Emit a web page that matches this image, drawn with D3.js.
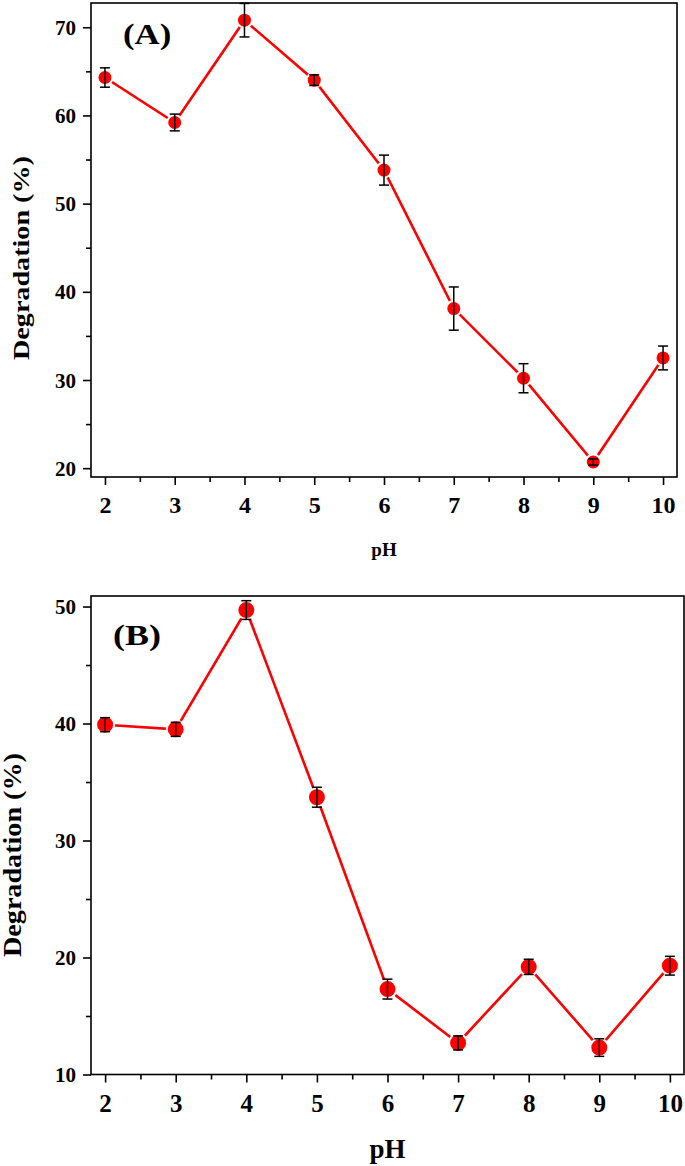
<!DOCTYPE html>
<html>
<head>
<meta charset="utf-8">
<script src="https://cdn.jsdelivr.net/npm/d3@7"></script>
<style>
  html, body { margin: 0; padding: 0; background: #fff; }
  svg { display: block; }
  svg text { font-family: "Times New Roman", "Liberation Serif", Tinos, serif !important; font-weight: bold; fill: #000; }
</style>
</head>
<body>
<svg id="chart" width="685" height="1166"></svg>
<script>
// ---- data ----
const pH = [2, 3, 4, 5, 6, 7, 8, 9, 10];
const degradationA = [64.3, 59.2, 70.8, 64.0, 53.8, 38.1, 30.2, 20.7, 32.5];
const errorA = [1.1, 0.95, 1.9, 0.6, 1.7, 2.45, 1.65, 0.35, 1.35];
const degradationB = [39.9, 39.5, 49.7, 33.7, 17.3, 12.7, 19.2, 12.3, 19.3];
const errorB = [0.6, 0.6, 0.8, 0.85, 0.85, 0.6, 0.65, 0.75, 0.8];
const xTicks = [2, 3, 4, 5, 6, 7, 8, 9, 10];
const yTicksA = [20, 30, 40, 50, 60, 70];
const yTicksB = [10, 20, 30, 40, 50];
const xLabel = "pH";
const yLabel = "Degradation (%)";

const svg = d3.select("#chart");
const FONT = '"Times New Roman", "Liberation Serif", Tinos, serif';

function panel(opt) {
  const g = svg.append("g");
  const x = d3.scaleLinear().domain([1.8, 10.2]).range([opt.left, opt.right]);
  const y = d3.scaleLinear().domain(opt.yDomain).range([opt.bottom, opt.top]);

  // frame
  g.append("rect")
    .attr("x", opt.left).attr("y", opt.top)
    .attr("width", opt.right - opt.left).attr("height", opt.bottom - opt.top)
    .attr("fill", "none").attr("stroke", "#000").attr("stroke-width", 1.6);

  const xMinor = d3.range(2.5, 10, 1);
  const yMinorAll = d3.range(5, 80, 10).filter(v => v > opt.yDomain[0] && v < opt.yDomain[1]);

  // x axis
  const xa = g.append("g").attr("transform", `translate(0,${opt.bottom})`)
    .call(d3.axisBottom(x).tickValues(xTicks).tickSize(8).tickPadding(4).tickFormat(d3.format("d")));
  xa.attr("font-family", FONT);
  xa.select(".domain").remove();
  xa.selectAll("line").attr("stroke", "#000").attr("stroke-width", 1.6);
  xa.selectAll("text").style("font-size", opt.xTickFont + "px").attr("y", opt.xTickY).attr("dy", null);
  const xm = g.append("g").attr("transform", `translate(0,${opt.bottom})`)
    .call(d3.axisBottom(x).tickValues(xMinor).tickSize(5).tickFormat(""));
  xm.select(".domain").remove();
  xm.selectAll("line").attr("stroke", "#000").attr("stroke-width", 1.6);

  // y axis
  const ya = g.append("g").attr("transform", `translate(${opt.left},0)`)
    .call(d3.axisLeft(y).tickValues(opt.yTicks).tickSize(8).tickPadding(7).tickFormat(d3.format("d")));
  ya.attr("font-family", FONT);
  ya.select(".domain").remove();
  ya.selectAll("line").attr("stroke", "#000").attr("stroke-width", 1.6);
  ya.selectAll("text").style("font-size", opt.yTickFont + "px").attr("dy", "0.34em");
  const ym = g.append("g").attr("transform", `translate(${opt.left},0)`)
    .call(d3.axisLeft(y).tickValues(yMinorAll).tickSize(5).tickFormat(""));
  ym.select(".domain").remove();
  ym.selectAll("line").attr("stroke", "#000").attr("stroke-width", 1.6);

  // line
  const data = pH.map((p, i) => ({ x: p, y: opt.values[i], e: opt.errors[i] }));
  g.append("path").datum(data)
    .attr("fill", "none").attr("stroke", "#ff0000").attr("stroke-width", 2.6)
    .attr("d", d3.line().x(d => x(d.x)).y(d => y(d.y)));

  // markers
  g.selectAll("circle.m").data(data).join("circle")
    .attr("class", "m")
    .attr("cx", d => x(d.x)).attr("cy", d => y(d.y)).attr("r", opt.r)
    .attr("fill", "#ff0000").attr("stroke", "#fff").attr("stroke-width", 2);

  // error bars
  const eb = g.selectAll("g.eb").data(data).join("g").attr("class", "eb")
    .attr("stroke", "#000").attr("stroke-width", 1.5);
  eb.append("line")
    .attr("x1", d => x(d.x)).attr("x2", d => x(d.x))
    .attr("y1", d => y(d.y - d.e)).attr("y2", d => y(d.y + d.e));
  eb.append("line")
    .attr("x1", d => x(d.x) - 5).attr("x2", d => x(d.x) + 5)
    .attr("y1", d => y(d.y - d.e)).attr("y2", d => y(d.y - d.e));
  eb.append("line")
    .attr("x1", d => x(d.x) - 5).attr("x2", d => x(d.x) + 5)
    .attr("y1", d => y(d.y + d.e)).attr("y2", d => y(d.y + d.e));

  // panel label (slightly stretched horizontally like the reference)
  g.append("text")
    .attr("transform", `translate(${opt.tagX},${opt.tagY}) scale(1.2,1)`)
    .style("font-size", opt.tagFont + "px").text(opt.tag);

  // axis titles
  g.append("text").attr("x", (opt.left + opt.right) / 2).attr("y", opt.xLabelY)
    .attr("text-anchor", "middle").style("font-size", opt.xLabelFont + "px").text(xLabel);
  g.append("text")
    .attr("transform", `translate(${opt.yLabelX},${opt.yLabelCY}) rotate(-90)`)
    .attr("text-anchor", "middle")
    .attr("textLength", opt.yLabelLen).attr("lengthAdjust", "spacingAndGlyphs")
    .style("font-size", opt.yLabelFont + "px").text(yLabel);
}

panel({
  left: 91, right: 677, top: 3, bottom: 477,
  yDomain: [19, 72.75], yTicks: yTicksA,
  values: degradationA, errors: errorA, r: 7.5,
  xTickFont: 24, xTickY: 36, yTickFont: 21,
  tag: "(A)", tagX: 123, tagY: 44, tagFont: 29,
  xLabelY: 556, xLabelFont: 19,
  yLabelX: 29, yLabelCY: 258, yLabelLen: 204, yLabelFont: 24
});

panel({
  left: 91, right: 684, top: 596, bottom: 1074.5,
  yDomain: [10, 50.9], yTicks: yTicksB,
  values: degradationB, errors: errorB, r: 9,
  xTickFont: 25, xTickY: 37, yTickFont: 21,
  tag: "(B)", tagX: 113, tagY: 645, tagFont: 30,
  xLabelY: 1158, xLabelFont: 27,
  yLabelX: 21, yLabelCY: 855, yLabelLen: 204, yLabelFont: 25
});
</script>
</body>
</html>
